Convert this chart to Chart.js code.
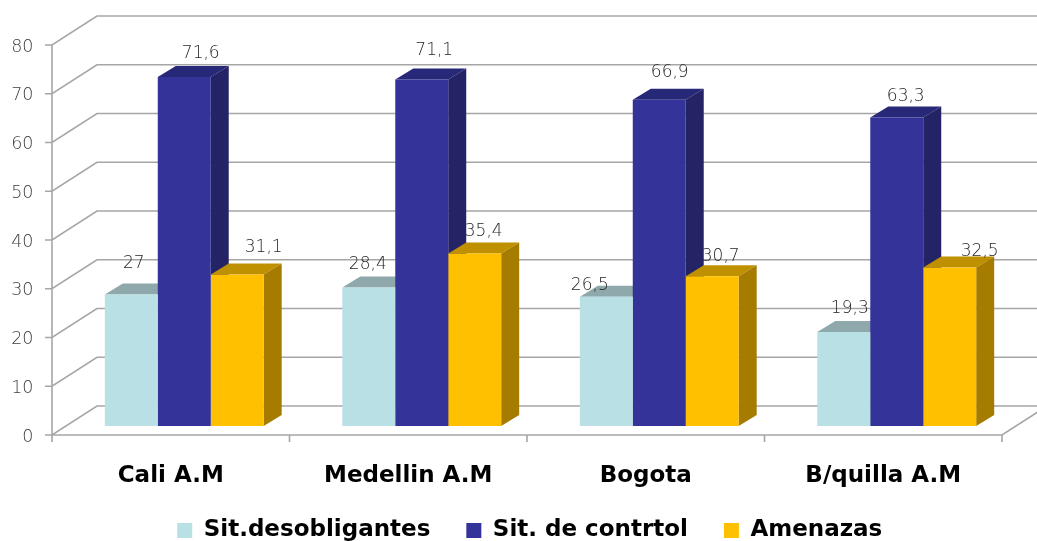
<!DOCTYPE html>
<html>
<head>
<meta charset="utf-8">
<title>Chart</title>
<script src="https://cdn.jsdelivr.net/npm/chart.js@4/dist/chart.umd.min.js"></script>
<style>
  html, body { margin: 0; padding: 0; background: #fff; overflow: hidden; }
  canvas { display: block; }
</style>
</head>
<body>
<canvas id="chartCanvas" width="1037" height="541"></canvas>
<script>
const categories = ["Cali A.M", "Medellin A.M", "Bogota", "B/quilla A.M"];
const seriesNames = ["Sit.desobligantes", "Sit. de contrtol", "Amenazas"];
const desobligantes = [27, 28.4, 26.5, 19.3];
const control = [71.6, 71.1, 66.9, 63.3];
const amenazas = [31.1, 35.4, 30.7, 32.5];
const tickLabels = [0, 10, 20, 30, 40, 50, 60, 70, 80];

// the labels were hand placed in the original, so each one has its own nudge
const labelNudgeX = [[2.5, -1, -16.5, 6], [16.5, 12.5, 10.5, 9], [26.5, 9, 8.5, 30]];
const labelNudgeY = [[-31, -22.5, -11, -23], [-23.5, -28.5, -27.5, -20.5], [-27, -22, -20, -15.5]];

const frontColors = ["#B9E0E4", "#333399", "#FFC000"];
const topColors = ["#8FA8AB", "#282878", "#BF9000"];
const sideColors = ["#7E9699", "#232366", "#A67C00"];

const gridColor = "#A6A6A6";
const valueFont = "200 17px 'DejaVu Sans'";

// 3d offsets
const barDepthX = 18, barDepthY = 11;
const floorX = 13.5, floorY = 9;
const wallX = 45, wallY = 29;

const frame3d = {
  id: "frame3d",
  afterLayout(chart) {
    // legend sits right of the canvas centre and lower than the layout puts it
    chart.legend.left += 22;
    chart.legend.right += 22;
    chart.legend.top += 11;
    chart.legend.bottom += 11;
    // the x labels get clipped to the scale box otherwise
    chart.scales.x.bottom += 30;
  },
  beforeDatasetsDraw(chart) {
    const { ctx, scales: { x, y } } = chart;
    const left = x.left - floorX;
    const right = x.right - floorX;
    const y0 = y.getPixelForValue(0) + floorY;
    const y80 = y.getPixelForValue(80) + floorY;
    ctx.save();
    ctx.strokeStyle = gridColor;
    ctx.lineWidth = 1.6;
    ctx.beginPath();
    tickLabels.forEach(v => {
      const py = y.getPixelForValue(v) + floorY;
      ctx.moveTo(left - 7, py);
      ctx.lineTo(left, py);
      ctx.lineTo(left + wallX, py - wallY);
      ctx.lineTo(chart.width + 2, py - wallY);
    });
    ctx.moveTo(left, y80);
    ctx.lineTo(left, y0 + 7);
    ctx.moveTo(left, y0);
    ctx.lineTo(right, y0);
    ctx.lineTo(right + wallX, y0 - wallY);
    for (let i = 1; i <= categories.length; i++) {
      const px = left + (right - left) * i / categories.length;
      ctx.moveTo(px, y0);
      ctx.lineTo(px, y0 + 7);
    }
    ctx.stroke();

    // tops and sides go left to right, the library paints the fronts after this
    allSeries.forEach((values, s) => {
      chart.getDatasetMeta(s).data.forEach(bar => {
        const p = bar.getProps(["x", "y", "base", "width"], true);
        const l = p.x - p.width / 2, r = p.x + p.width / 2;
        ctx.fillStyle = topColors[s];
        ctx.beginPath();
        ctx.moveTo(l, p.y);
        ctx.lineTo(l + barDepthX, p.y - barDepthY);
        ctx.lineTo(r + barDepthX, p.y - barDepthY);
        ctx.lineTo(r, p.y);
        ctx.closePath();
        ctx.fill();
        ctx.fillStyle = sideColors[s];
        ctx.beginPath();
        ctx.moveTo(r, p.y);
        ctx.lineTo(r + barDepthX, p.y - barDepthY);
        ctx.lineTo(r + barDepthX, p.base - barDepthY);
        ctx.lineTo(r, p.base);
        ctx.closePath();
        ctx.fill();
      });
    });
    ctx.restore();
  },
  afterDatasetsDraw(chart) {
    const { ctx } = chart;
    ctx.save();
    ctx.font = valueFont;
    ctx.fillStyle = "#262626";
    ctx.textAlign = "center";
    ctx.textBaseline = "middle";
    chart.data.datasets.forEach((ds, s) => {
      chart.getDatasetMeta(s).data.forEach((bar, i) => {
        const txt = String(ds.data[i]).replace(".", ",");
        ctx.fillText(txt, bar.x + labelNudgeX[s][i], bar.y + labelNudgeY[s][i]);
      });
    });
    ctx.restore();
  }
};

const allSeries = [desobligantes, control, amenazas];

new Chart(document.getElementById("chartCanvas"), {
  type: "bar",
  data: {
    labels: categories,
    datasets: allSeries.map((values, s) => ({
      label: seriesNames[s],
      data: values,
      backgroundColor: frontColors[s],
      barPercentage: 1,
      categoryPercentage: 0.669
    }))
  },
  options: {
    responsive: false,
    animation: false,
    layout: { padding: { top: 36, right: 21.5, bottom: 0 } },
    plugins: {
      tooltip: { enabled: false },
      legend: {
        position: "bottom",
        labels: {
          boxWidth: 15,
          boxHeight: 15,
          padding: 36,
          color: "#000",
          font: { family: "'DejaVu Sans'", size: 23, weight: "bold" }
        }
      }
    },
    scales: {
      x: {
        grid: { display: false },
        border: { display: false },
        afterFit(scale) { scale.height = 46; },
        ticks: {
          color: "#000",
          font: { family: "'DejaVu Sans'", size: 23, weight: "bold" },
          padding: 28,
          labelOffset: -floorX,
          maxRotation: 0
        }
      },
      y: {
        min: 0,
        max: 80,
        grid: { display: false },
        border: { display: false },
        afterFit(scale) {
          scale.width = 65.5;
          scale.paddingTop = 0;
          scale.paddingBottom = 0;
        },
        afterBuildTicks(scale) { scale.ticks = tickLabels.map(v => ({ value: v })); },
        ticks: {
          color: "#404040",
          font: { family: "'DejaVu Sans'", size: 17.5, weight: 200 },
          padding: 24,
          labelOffset: floorY + 2
        }
      }
    }
  },
  plugins: [frame3d]
});
</script>
</body>
</html>
